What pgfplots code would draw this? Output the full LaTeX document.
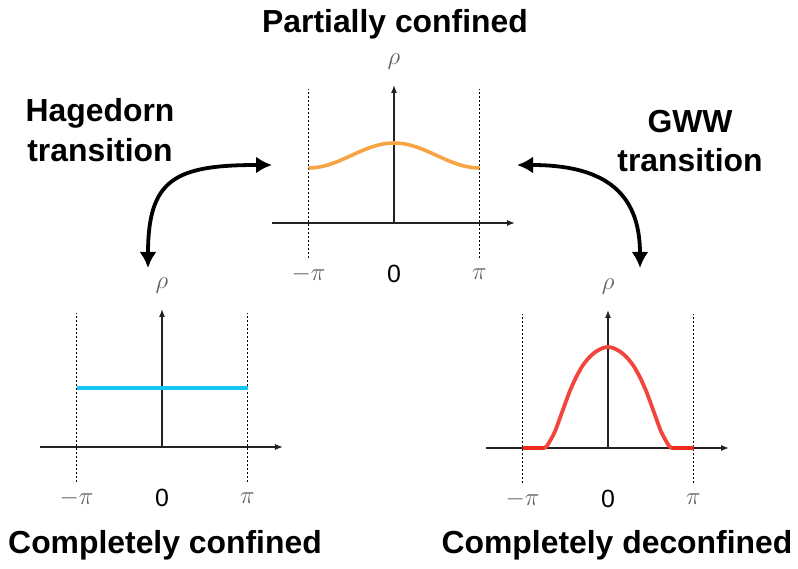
\documentclass[border=0pt]{standalone}
\usepackage{fontspec}
\setmainfont{Liberation Sans}
\usepackage{pgfplots}
\pgfplotsset{compat=1.18}
\usetikzlibrary{arrows.meta}
\definecolor{corange}{HTML}{F7A444}
\definecolor{ccyan}{HTML}{14C6F2}
\definecolor{cred}{HTML}{F0463C}
\definecolor{cdred}{HTML}{EC2B1D}
\definecolor{cgray}{HTML}{606060}
\definecolor{caxis}{HTML}{222222}
\tikzset{
  axisline/.style={caxis, line width=1.3bp, -{Latex[length=8bp,width=6bp]}},
  dotline/.style={black, line width=1.1bp, dash pattern=on 2bp off 2bp},
  lab/.style={font=\fontsize{25}{29}\selectfont},
}
\pgfplotsset{
  rhoaxis/.style={scale only axis, width=243bp, height=138bp,
    xmin=-4.483, xmax=4.446, ymin=0, ymax=138,
    axis lines=none, clip=false, anchor=south west},
}
\newcommand\decor{%
  \draw[axisline] (axis cs:-4.483,0) -- (axis cs:4.446,0);
  \draw[axisline] (axis cs:0,0) -- (axis cs:0,138);
  \draw[dotline] (axis cs:-3.1416,-35) -- (axis cs:-3.1416,134);
  \draw[dotline] (axis cs:3.1416,-35) -- (axis cs:3.1416,134);
  \node[lab, text=cgray] at (axis cs:0,161) {$\rho$};
  \node[lab, text=cgray] at (axis cs:-3.1416,-51) {$-\pi$};
  \node[lab] at (axis cs:0,-51) {0};
  \node[lab, text=cgray] at (axis cs:3.1416,-51) {$\pi$};
}
\begin{document}
\begin{tikzpicture}
\useasboundingbox (0,0) rectangle (798bp,569bp);
% Top: partially confined
\begin{axis}[rhoaxis, at={(272bp,346bp)}]
\decor
\addplot[corange, line width=3.6bp, smooth] coordinates {
(-3.1416,55.0) (-2.8798,55.43) (-2.6180,56.67) (-2.3562,58.66) (-2.0944,61.25)
(-1.8326,64.26) (-1.5708,67.5) (-1.3090,70.74) (-1.0472,73.75) (-0.7854,76.34)
(-0.5236,78.33) (-0.2618,79.57) (0,80.0) (0.2618,79.57) (0.5236,78.33)
(0.7854,76.34) (1.0472,73.75) (1.3090,70.74) (1.5708,67.5) (1.8326,64.26)
(2.0944,61.25) (2.3562,58.66) (2.6180,56.67) (2.8798,55.43) (3.1416,55.0)};
\end{axis}
% Bottom left: completely confined
\begin{axis}[rhoaxis, at={(40bp,122bp)}]
\decor
\addplot[ccyan, line width=3.8bp] coordinates {(-3.1416,59) (3.1416,59)};
\end{axis}
% Bottom right: completely deconfined
\begin{axis}[rhoaxis, at={(486bp,121bp)}]
\decor
\addplot[cred, line width=3.8bp, smooth] coordinates {
(-3.1416,0) (-2.75,0) (-2.34,0) (-2.25,1.8) (-2.155,6) (-2.03,12) (-1.907,19.4)
(-1.663,37.7) (-1.416,56) (-1.168,71) (-0.924,82.7) (-0.676,91) (-0.429,96.7)
(-0.185,100) (0,101) (0.185,100) (0.429,96.7) (0.676,91) (0.924,82.7)
(1.168,71) (1.416,56) (1.663,37.7) (1.907,19.4) (2.03,12) (2.155,6)
(2.25,1.8) (2.34,0) (2.75,0) (3.1416,0)};
\addplot[cdred, line width=3.8bp] coordinates {(-3.1416,0) (-2.34,0)};
\addplot[cdred, line width=3.8bp] coordinates {(2.34,0) (3.1416,0)};
\end{axis}
% Titles
\begin{scope}[every node/.style={font=\fontsize{32}{36}\selectfont\bfseries, anchor=base}]
\node at (395bp,536bp) {Partially confined};
\node at (100bp,447bp) {Hagedorn};
\node at (100bp,407bp) {transition};
\node at (690bp,436bp) {GWW};
\node at (690bp,397bp) {transition};
\node at (165bp,16bp) {Completely confined};
\node at (617bp,16bp) {Completely deconfined};
\end{scope}
% Transition arrows
\draw[black, line width=3.8bp, {Latex[length=16bp,width=17bp]}-{Latex[length=16bp,width=17bp]}]
  (148bp,301bp) .. controls (148bp,390bp) and (175bp,404bp) .. (272bp,404bp);
\draw[black, line width=3.8bp, {Latex[length=16bp,width=17bp]}-{Latex[length=16bp,width=17bp]}]
  (517bp,404bp) .. controls (600bp,404bp) and (640bp,380bp) .. (640bp,301bp);
\end{tikzpicture}
\end{document}
